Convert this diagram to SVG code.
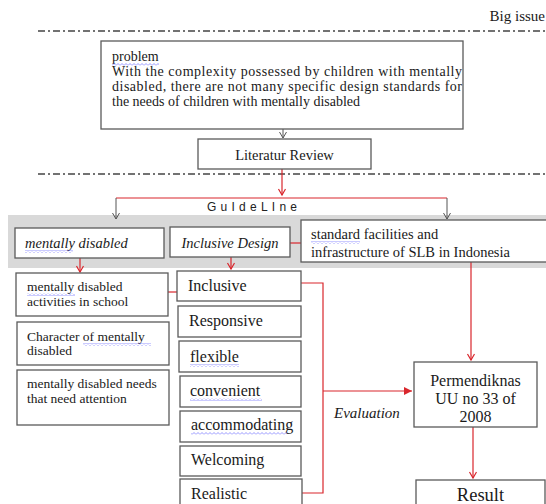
<svg xmlns="http://www.w3.org/2000/svg" width="546" height="504" viewBox="0 0 546 504">
<style>
.box{fill:#fff;stroke:#5a5a5a;stroke-width:1.3}
.t{font-family:"Liberation Serif","Times New Roman",serif;fill:#1a1a1a}
.it{font-style:italic}
.dd{fill:none;stroke:#444;stroke-width:1.3;stroke-dasharray:7 3 2 3}
.blk{fill:none;stroke:#555;stroke-width:1}
.red{fill:none;stroke:#d9262c;stroke-width:1.2}
.sq{fill:url(#wavy)}
</style>
<defs>
<marker id="ab" markerUnits="userSpaceOnUse" markerWidth="10" markerHeight="10" refX="7" refY="4" orient="auto"><path d="M1,0.5 L7,4 L1,7.5" fill="none" stroke="#555" stroke-width="1"/></marker>
<marker id="ar" markerUnits="userSpaceOnUse" markerWidth="10" markerHeight="10" refX="7" refY="4" orient="auto"><path d="M1,0.5 L7,4 L1,7.5" fill="none" stroke="#d9262c" stroke-width="1.2"/></marker>
<marker id="arf" markerUnits="userSpaceOnUse" markerWidth="12" markerHeight="12" refX="8" refY="4" orient="auto"><path d="M0,0 L8,4 L0,8 Z" fill="#d9262c"/></marker>
<pattern id="wavy" patternUnits="userSpaceOnUse" width="4" height="3"><path d="M0,2.5 L2,0.5 L4,2.5" fill="none" stroke="#6a6aff" stroke-width="0.7"/></pattern>
</defs>

<text class="t" x="545" y="21" font-size="15" text-anchor="end">Big issue</text>
<line class="dd" x1="38" y1="31" x2="546" y2="31"/>
<line class="dd" x1="38" y1="174" x2="546" y2="174"/>

<rect x="8" y="215" width="540" height="53" fill="#d9d9d9"/>

<g id="connectors">
<line class="blk" x1="283" y1="129" x2="283" y2="138" marker-end="url(#ab)"/>
<line class="red" x1="282" y1="169" x2="282" y2="195" marker-end="url(#ar)"/>
<line class="red" x1="116" y1="198" x2="447" y2="198"/>
<line class="blk" x1="116" y1="198" x2="116" y2="219" marker-end="url(#ab)"/>
<line class="blk" x1="447" y1="198" x2="447" y2="219" marker-end="url(#ab)"/>
<line class="red" x1="290" y1="243" x2="301" y2="243"/>
<line class="red" x1="80" y1="258" x2="80" y2="272" marker-end="url(#ar)"/>
<line class="red" x1="231" y1="257" x2="231" y2="269" marker-end="url(#ar)"/>
<line class="red" x1="168" y1="292" x2="178" y2="292"/>
<polyline class="red" points="301,283 323,283 323,493 302,493"/>
<line class="red" x1="323" y1="391" x2="412" y2="391" marker-end="url(#arf)"/>
<line class="red" x1="471" y1="262" x2="471" y2="360" marker-end="url(#ar)"/>
<line class="red" x1="473" y1="427" x2="473" y2="478" marker-end="url(#ar)"/>
</g>

<g id="problem">
<rect class="box" x="101" y="41" width="362" height="88"/>
<text class="t" x="112" y="61" font-size="14">problem</text>
<rect class="sq" x="112" y="63" width="47" height="3"/>
<text class="t" x="112" y="76" font-size="14" textLength="350" lengthAdjust="spacing">With the complexity possessed by children with mentally</text>
<text class="t" x="112" y="91" font-size="14" textLength="350" lengthAdjust="spacing">disabled, there are not many specific design standards for</text>
<text class="t" x="112" y="106" font-size="14">the needs of children with mentally disabled</text>
</g>

<g id="literatur">
<rect class="box" x="198" y="139" width="173" height="30"/>
<text class="t" x="284.5" y="160" font-size="14.5" text-anchor="middle">Literatur Review</text>
</g>

<g id="guideline">
<text x="207" y="211" font-family="'Liberation Sans',Arial,sans-serif" font-size="12" fill="#222" textLength="90" lengthAdjust="spacing">GuIdeLIne</text>
</g>

<g id="mentally-disabled">
<rect class="box" x="15" y="228" width="149" height="30"/>
<text class="t it" x="25" y="248" font-size="14.5">mentally disabled</text>
<rect class="sq" x="25" y="250" width="48" height="3"/>
</g>

<g id="inclusive-design">
<rect class="box" x="170" y="227" width="120" height="30"/>
<text class="t it" x="230" y="248" font-size="14.5" text-anchor="middle">Inclusive Design</text>
</g>

<g id="standard">
<rect class="box" x="301" y="220" width="246" height="42"/>
<text class="t" x="311" y="239" font-size="14.5">standard facilities and</text>
<rect class="sq" x="311" y="241" width="49" height="3"/>
<text class="t" x="311" y="257" font-size="14.5">infrastructure of SLB in Indonesia</text>
</g>

<g id="activities">
<rect class="box" x="16" y="273" width="152" height="43"/>
<text class="t" x="27" y="291" font-size="13.5">mentally disabled</text>
<rect class="sq" x="27" y="293" width="48" height="3"/>
<text class="t" x="27" y="306" font-size="13.5">activities in school</text>
</g>

<g id="character">
<rect class="box" x="17" y="322" width="152" height="43"/>
<text class="t" x="27" y="341" font-size="13.5">Character of  mentally</text>
<rect class="sq" x="83" y="343" width="68" height="3"/>
<text class="t" x="27" y="355" font-size="13.5">disabled</text>
</g>

<g id="needs">
<rect class="box" x="17" y="370" width="152" height="55"/>
<text class="t" x="27" y="388" font-size="13.5">mentally disabled needs</text>
<text class="t" x="27" y="403" font-size="13.5">that need attention</text>
</g>

<g id="inclusive">
<rect class="box" x="177" y="271" width="124" height="30"/>
<text class="t" x="188" y="291" font-size="16">Inclusive</text>
</g>
<g id="responsive">
<rect class="box" x="178" y="306" width="123" height="31"/>
<text class="t" x="189" y="326" font-size="16">Responsive</text>
</g>
<g id="flexible">
<rect class="box" x="179" y="341" width="122" height="31"/>
<text class="t" x="190" y="362" font-size="16">flexible</text>
<rect class="sq" x="190" y="364" width="49" height="3"/>
</g>
<g id="convenient">
<rect class="box" x="180" y="376" width="121" height="31"/>
<text class="t" x="190" y="396" font-size="16">convenient</text>
<rect class="sq" x="190" y="398" width="72" height="3"/>
</g>
<g id="accommodating">
<rect class="box" x="180" y="411" width="121" height="31"/>
<text class="t" x="191" y="430" font-size="16">accommodating</text>
<rect class="sq" x="191" y="432" width="96" height="3"/>
</g>
<g id="welcoming">
<rect class="box" x="180" y="446" width="121" height="30"/>
<text class="t" x="191" y="465" font-size="16">Welcoming</text>
</g>
<g id="realistic">
<rect class="box" x="180" y="479" width="122" height="32"/>
<text class="t" x="191" y="499" font-size="16">Realistic</text>
</g>

<g id="evaluation">
<text class="t it" x="334" y="418" font-size="15">Evaluation</text>
</g>

<g id="permendiknas">
<rect class="box" x="414" y="362" width="123" height="65"/>
<text class="t" x="475.5" y="386" font-size="16" text-anchor="middle">Permendiknas</text>
<text class="t" x="475.5" y="404" font-size="16" text-anchor="middle">UU no 33 of</text>
<text class="t" x="475.5" y="422" font-size="16" text-anchor="middle">2008</text>
</g>

<g id="result">
<rect class="box" x="416" y="480" width="129" height="32"/>
<text class="t" x="480.5" y="501" font-size="18.5" text-anchor="middle">Result</text>
</g>
</svg>
